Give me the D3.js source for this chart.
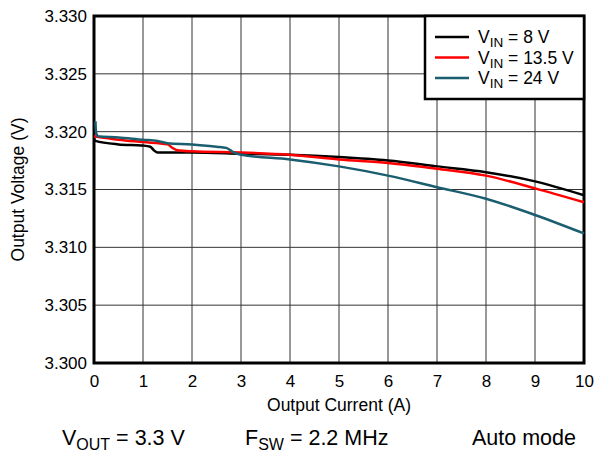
<!DOCTYPE html>
<html>
<head>
<meta charset="utf-8">
<script src="https://cdn.jsdelivr.net/npm/d3@7/dist/d3.min.js"></script>
<style>
  body { margin: 0; background: #fff; }
  svg { font-family: "Liberation Sans", Arial, sans-serif; }
</style>
</head>
<body>
<div id="viz"></div>
<script>
// values
var xTicks = [0, 1, 2, 3, 4, 5, 6, 7, 8, 9, 10];
var yTicks = [3.300, 3.305, 3.310, 3.315, 3.320, 3.325, 3.330];

var x8 = [0, 0.03, 0.5, 1.0, 1.15, 1.22, 1.3, 1.5, 2, 3, 4, 5, 6, 7, 8, 9, 10];
var v8 = [3.3194, 3.3192, 3.3189, 3.3188, 3.3187, 3.3184, 3.3182, 3.3182, 3.3182, 3.3181, 3.3180, 3.3178, 3.3175, 3.3170, 3.3165, 3.3157, 3.3145];

var x13 = [0, 0.5, 1, 1.5, 1.6, 1.7, 2, 3, 4, 5, 6, 7, 8, 9, 10];
var v13 = [3.3196, 3.3193, 3.3191, 3.3189, 3.3186, 3.3184, 3.3183, 3.3182, 3.3180, 3.3176, 3.3173, 3.3168, 3.3162, 3.3151, 3.3139];

var x24 = [0.03, 0.04, 0.08, 0.5, 1, 1.3, 1.5, 2, 2.5, 2.7, 2.85, 3, 4, 5, 6, 7, 8, 9, 10];
var v24 = [3.3209, 3.3200, 3.3196, 3.3195, 3.3193, 3.3192, 3.3190, 3.3189, 3.3187, 3.3186, 3.3182, 3.3180, 3.3176, 3.3170, 3.3162, 3.3152, 3.3142, 3.3128, 3.3112];

var seriesNames = ['8 V', '13.5 V', '24 V'];
var seriesColors = ['#000000', '#ff0000', '#1b5e6f'];

var margin = { top: 16, right: 12, bottom: 90, left: 94 },
    width = 596 - margin.left - margin.right,
    height = 453 - margin.top - margin.bottom;

var svg = d3.select('#viz').append('svg')
  .attr('width', 596)
  .attr('height', 453);

var g = svg.append('g')
  .attr('transform', 'translate(' + margin.left + ',' + margin.top + ')');

var xScale = d3.scaleLinear().domain([0, 10]).range([0, width]);
var yScale = d3.scaleLinear().domain([3.300, 3.330]).range([height, 0]);

// grid
g.append('g').selectAll('line').data(xTicks.slice(1, -1))
  .enter().append('line')
  .attr('x1', d => xScale(d)).attr('x2', d => xScale(d))
  .attr('y1', 0).attr('y2', height)
  .attr('stroke', '#333').attr('stroke-width', 1);

g.append('g').selectAll('line').data(yTicks.slice(1, -1))
  .enter().append('line')
  .attr('x1', 0).attr('x2', width)
  .attr('y1', d => yScale(d)).attr('y2', d => yScale(d))
  .attr('stroke', '#333').attr('stroke-width', 1);

// frame
g.append('rect')
  .attr('x', 0).attr('y', 0)
  .attr('width', width).attr('height', height)
  .attr('fill', 'none').attr('stroke', '#000').attr('stroke-width', 3);

// axes (labels only)
var xAxis = d3.axisBottom(xScale).tickValues(xTicks).tickSize(0).tickPadding(12).tickFormat(d3.format('d'));
var yAxis = d3.axisLeft(yScale).tickValues(yTicks).tickSize(0).tickPadding(7).tickFormat(d3.format('.3f'));

var xg = g.append('g').attr('transform', 'translate(0,' + height + ')').call(xAxis);
var yg = g.append('g').call(yAxis);
[xg, yg].forEach(function(a) {
  a.select('.domain').remove();
  a.selectAll('text').attr('font-size', 17).attr('fill', '#000')
    .attr('font-family', '"Liberation Sans", Arial, sans-serif');
});

// series
var line = d3.line()
  .x(d => xScale(d[0]))
  .y(d => yScale(d[1]))
  .curve(d3.curveMonotoneX);

var series = [
  d3.zip(x8, v8),
  d3.zip(x13, v13),
  d3.zip(x24, v24)
];

g.selectAll('path.series').data(series)
  .enter().append('path')
  .attr('class', 'series')
  .attr('d', line)
  .attr('fill', 'none')
  .attr('stroke', (d, i) => seriesColors[i])
  .attr('stroke-width', 2.5);

// legend
var lg = g.append('g').attr('transform', 'translate(' + (width - 159) + ',0)');
lg.append('rect')
  .attr('x', 0).attr('y', 0).attr('width', 159).attr('height', 83)
  .attr('fill', '#fff').attr('stroke', '#000').attr('stroke-width', 2.5);

var items = lg.selectAll('g.item').data(seriesNames)
  .enter().append('g')
  .attr('class', 'item')
  .attr('transform', (d, i) => 'translate(0,' + (21 + i * 20.5) + ')');

items.append('line')
  .attr('x1', 10).attr('x2', 44)
  .attr('stroke', (d, i) => seriesColors[i]).attr('stroke-width', 2.5);

var lt = items.append('text')
  .attr('x', 53).attr('y', 6)
  .attr('font-size', 17.5);
lt.append('tspan').text('V');
lt.append('tspan').text('IN').attr('font-size', 13.5).attr('dy', 4);
lt.append('tspan').text(d => ' = ' + d).attr('dy', -4);

// axis titles
svg.append('text')
  .attr('x', margin.left + width / 2).attr('y', 411)
  .attr('text-anchor', 'middle').attr('font-size', 17.5)
  .text('Output Current (A)');

svg.append('text')
  .attr('transform', 'translate(24,' + (margin.top + height / 2) + ') rotate(-90)')
  .attr('text-anchor', 'middle').attr('font-size', 17.5)
  .text('Output Voltage (V)');

// footer
var f1 = svg.append('text').attr('x', 62).attr('y', 445).attr('font-size', 21.5);
f1.append('tspan').text('V');
f1.append('tspan').text('OUT').attr('font-size', 16).attr('dy', 5);
f1.append('tspan').text(' = 3.3 V').attr('dy', -5);

var f2 = svg.append('text').attr('x', 245).attr('y', 445).attr('font-size', 21.5);
f2.append('tspan').text('F');
f2.append('tspan').text('SW').attr('font-size', 16).attr('dy', 5);
f2.append('tspan').text(' = 2.2 MHz').attr('dy', -5);

svg.append('text').attr('x', 472).attr('y', 445).attr('font-size', 21.5)
  .text('Auto mode');
</script>
</body>
</html>
